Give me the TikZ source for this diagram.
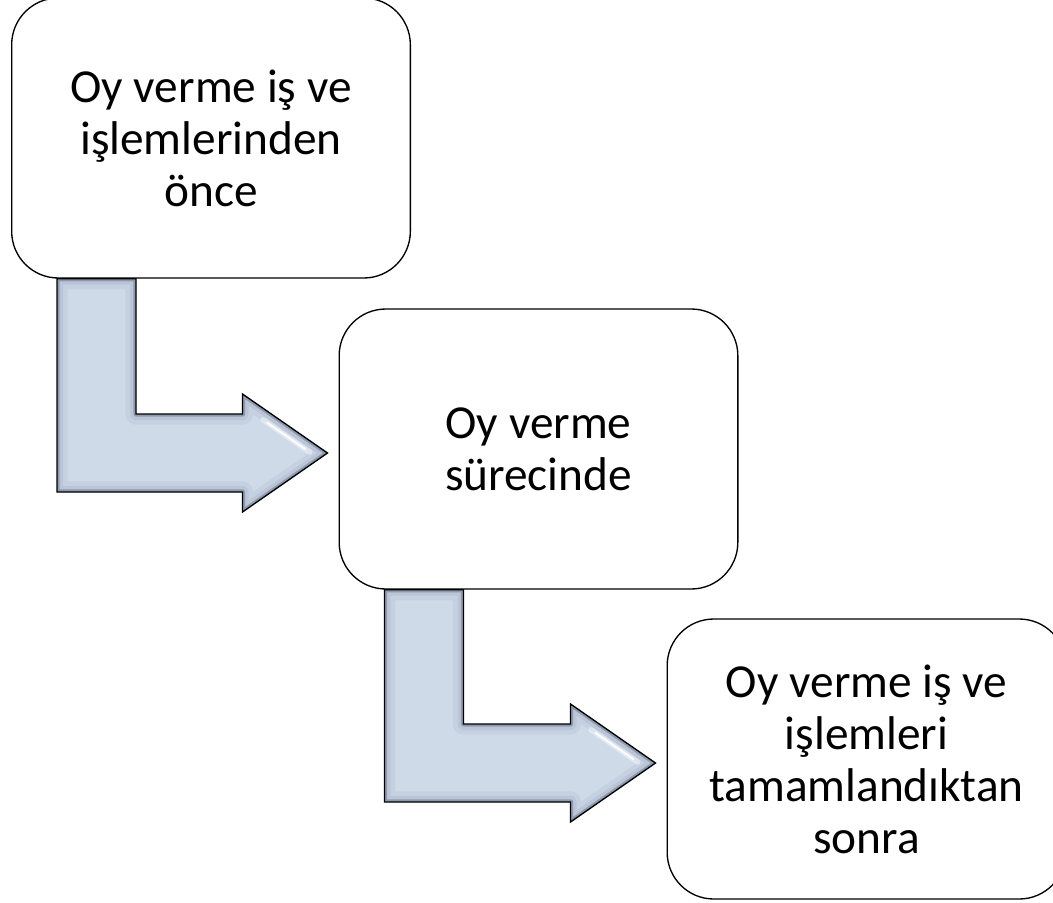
\documentclass[tikz,border=0pt]{standalone}
\usepackage{fontspec}
\setmainfont{Carlito}
\usetikzlibrary{calc}

\definecolor{arrowfill}{HTML}{CFDAE9}
\definecolor{arrowedge}{HTML}{8E9AAE}
\definecolor{arrowmid}{HTML}{B4C0D2}

\tikzset{
    stagebox/.style={draw, line width=1pt, fill=white, rounded corners=35pt,
        minimum width=299pt, minimum height=210pt, align=center,
        font=\fontsize{35.5}{39}\selectfont},
}

% bent arrow from the bottom of one box to the left side of the next
\newcommand{\bentarrow}[2]{
    \coordinate (s1) at ($(#1.south west)+(46,0)$);
    \coordinate (s2) at ($(#1.south west)+(125,0)$);
    \coordinate (tip) at ($(#2.west)+(-11,4)$);
    \coordinate (bt) at ($(tip)+(-85,-39)$);
    \coordinate (ht) at ($(tip)+(-85,-59)$);
    \coordinate (hb) at ($(tip)+(-85,59)$);
    \coordinate (bb) at ($(tip)+(-85,39)$);
    \def\arrowpath{(s1) -- (s2) -- (s2 |- bt) -- (bt) -- (ht) -- (tip) -- (hb) -- (bb) -- (s1 |- bb) -- cycle}
    \fill[arrowfill] \arrowpath;
    \begin{scope}
        \clip \arrowpath;
        \draw[arrowmid, line width=16pt, opacity=0.35, line join=round] \arrowpath;
        \draw[arrowmid, line width=9pt, opacity=0.6, line join=round] \arrowpath;
        \draw[arrowedge, line width=4pt, line join=round] \arrowpath;
        % highlight along the upper edge of the head
        \draw[white, line width=4pt, opacity=0.45, line cap=round]
            ($(ht)!0.3!(tip)+(-5,8)$) -- ($(ht)!0.85!(tip)+(-5,8)$);
        \draw[white, line width=1.5pt, opacity=0.9, line cap=round]
            ($(ht)!0.35!(tip)+(-5,8)$) -- ($(ht)!0.8!(tip)+(-5,8)$);
    \end{scope}
    \draw[line width=1pt, line join=miter] \arrowpath;
}

\begin{document}
\begin{tikzpicture}[x=0.75pt, y=-0.75pt]
    \useasboundingbox (0,0) rectangle (1053,903);

    \node[stagebox] (before) at (211, 138) {Oy verme iş ve\\işlemlerinden\\önce};
    \node[stagebox] (during) at (538.5, 449) {Oy verme\\sürecinde};
    \node[stagebox] (after) at (866.5, 759) {Oy verme iş ve\\işlemleri\\tamamlandıktan\\sonra};

    \bentarrow{before}{during}
    \bentarrow{during}{after}
\end{tikzpicture}
\end{document}
